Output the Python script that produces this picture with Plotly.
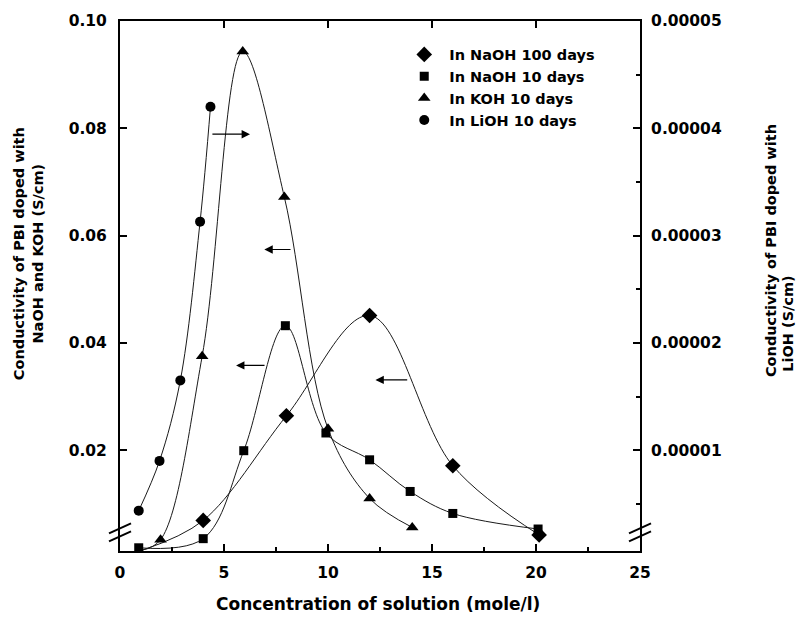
import plotly.graph_objects as go

# ---------------- data ----------------
conc_naoh100 = [4.0, 8.0, 12.0, 16.0, 20.15]
sigma_naoh100 = [0.0069, 0.0264, 0.0451, 0.0171, 0.0042]

conc_naoh10 = [0.9, 4.0, 5.95, 7.95, 9.9, 12.0, 13.95, 16.0, 20.1]
sigma_naoh10 = [0.0018, 0.0035, 0.0199, 0.0432, 0.0232, 0.0182, 0.0123, 0.0082, 0.0053]

conc_koh10 = [1.95, 3.95, 5.9, 7.9, 10.0, 12.0, 14.05]
sigma_koh10 = [0.0033, 0.0375, 0.0943, 0.0672, 0.0240, 0.0110, 0.0056]

conc_lioh10 = [0.9, 1.9, 2.9, 3.85, 4.35]
sigma_lioh10 = [0.00000436, 0.0000090, 0.0000165, 0.0000313, 0.0000420]

# visible start of the fitted curves
curve_start_naoh100 = (1.1, 0.0014)
curve_start_koh10 = (1.0, 0.0013)

series_names = ["In NaOH 100 days", "In NaOH 10 days", "In KOH 10 days", "In LiOH 10 days"]

x_ticks = [0, 5, 10, 15, 20, 25]
y_ticks = [0.02, 0.04, 0.06, 0.08, 0.10]
y_ticklabels = ["0.02", "0.04", "0.06", "0.08", "0.10"]
y2_ticks = [0.00001, 0.00002, 0.00003, 0.00004, 0.00005]
y2_ticklabels = ["0.00001", "0.00002", "0.00003", "0.00004", "0.00005"]
y2_minor = [0.000005, 0.000015, 0.000025, 0.000035, 0.000045]

# ---------------- figure ----------------
LINE = "#1a1a1a"
TICKFONT = dict(family="DejaVu Sans", size=15.5, color="black", weight="bold")
YTITLEFONT = dict(family="DejaVu Sans", size=14.5, color="black", weight="bold")
XTITLEFONT = dict(family="DejaVu Sans", size=17, color="black", weight="bold")

fig = go.Figure()

# fitted curves (smooth lines through the points)
fig.add_trace(go.Scatter(x=[curve_start_naoh100[0]] + conc_naoh100,
                         y=[curve_start_naoh100[1]] + sigma_naoh100,
                         mode="lines", line=dict(color=LINE, width=1, shape="spline", smoothing=1),
                         showlegend=False, hoverinfo="skip"))
fig.add_trace(go.Scatter(x=conc_naoh10, y=sigma_naoh10,
                         mode="lines", line=dict(color=LINE, width=1, shape="spline", smoothing=1),
                         showlegend=False, hoverinfo="skip"))
fig.add_trace(go.Scatter(x=[curve_start_koh10[0]] + conc_koh10,
                         y=[curve_start_koh10[1]] + sigma_koh10,
                         mode="lines", line=dict(color=LINE, width=1, shape="spline", smoothing=1),
                         showlegend=False, hoverinfo="skip"))
fig.add_trace(go.Scatter(x=conc_lioh10, y=sigma_lioh10, yaxis="y2",
                         mode="lines", line=dict(color=LINE, width=1, shape="spline", smoothing=1),
                         showlegend=False, hoverinfo="skip"))

# markers
fig.add_trace(go.Scatter(x=conc_naoh100, y=sigma_naoh100, mode="markers", name=series_names[0],
                         marker=dict(symbol="diamond", size=12, color="black")))
fig.add_trace(go.Scatter(x=conc_naoh10, y=sigma_naoh10, mode="markers", name=series_names[1],
                         marker=dict(symbol="square", size=9, color="black")))
fig.add_trace(go.Scatter(x=conc_koh10, y=sigma_koh10, mode="markers", name=series_names[2],
                         marker=dict(symbol="triangle-up", size=11, color="black")))
fig.add_trace(go.Scatter(x=conc_lioh10, y=sigma_lioh10, mode="markers", name=series_names[3],
                         yaxis="y2", marker=dict(symbol="circle", size=10, color="black")))

# dummy trace so the top (mirror) axis is drawn
fig.add_trace(go.Scatter(x=[None], y=[None], xaxis="x2", showlegend=False, hoverinfo="skip"))

fig.update_layout(
    width=803, height=620,
    margin=dict(l=120, r=163, t=18, b=69),
    paper_bgcolor="white", plot_bgcolor="white",
    showlegend=True,
    legend=dict(x=0.537, y=0.967, xanchor="left", yanchor="top", itemwidth=40,
                font=dict(family="DejaVu Sans", size=14.5, color="black", weight="bold"),
                bgcolor="rgba(0,0,0,0)", tracegroupgap=0),
    xaxis=dict(range=[0, 25], tickvals=x_ticks, ticks="inside", ticklen=7, tickwidth=1.5,
               tickcolor="black", showline=True, linewidth=2, linecolor="black",
               showgrid=False, zeroline=False, tickfont=TICKFONT, ticklabelstandoff=6,
               minor=dict(dtick=2.5, ticks="inside", ticklen=4, tickwidth=1.5, tickcolor="black",
                          showgrid=False)),
    xaxis2=dict(range=[0, 25], overlaying="x", side="top", tickvals=x_ticks, ticks="inside",
                ticklen=7, tickwidth=1.5, tickcolor="black", showline=True, linewidth=2,
                linecolor="black", showticklabels=False, showgrid=False, zeroline=False),
    yaxis=dict(range=[0.0012, 0.1], tickvals=y_ticks, ticktext=y_ticklabels, ticks="inside",
               ticklen=7, tickwidth=1.5, tickcolor="black", showline=True, linewidth=2,
               linecolor="black", showgrid=False, zeroline=False, tickfont=TICKFONT,
               ticklabelstandoff=8),
    yaxis2=dict(range=[0.0000006, 0.00005], overlaying="y", side="right", tickvals=y2_ticks,
                ticktext=y2_ticklabels, ticks="inside", ticklen=7, tickwidth=1.5,
                tickcolor="black", showline=True, linewidth=2, linecolor="black",
                showgrid=False, zeroline=False, tickfont=TICKFONT, ticklabelstandoff=6,
                minor=dict(tickvals=y2_minor, ticks="inside", ticklen=4, tickwidth=1.5,
                           tickcolor="black", showgrid=False)),
)

# axis titles
fig.add_annotation(text="Concentration of solution (mole/l)", xref="paper", yref="paper",
                   x=0.4966, y=-0.100, xanchor="center", yanchor="middle", showarrow=False,
                   font=XTITLEFONT)
fig.add_annotation(text="Conductivity of PBI doped with<br>NaOH and KOH (S/cm)", xref="paper",
                   yref="paper", x=-0.176, y=0.561, xanchor="center", yanchor="middle",
                   textangle=-90, showarrow=False, font=YTITLEFONT, align="center")
fig.add_annotation(text="Conductivity of PBI doped with", xref="paper",
                   yref="paper", x=1.2522, y=0.8087, xanchor="center", yanchor="top",
                   textangle=-90, showarrow=False, font=YTITLEFONT)
fig.add_annotation(text="LiOH (S/cm)", xref="paper",
                   yref="paper", x=1.2830, y=0.5235, xanchor="center", yanchor="top",
                   textangle=-90, showarrow=False, font=YTITLEFONT)

# arrows indicating which axis each curve belongs to
arrows = [
    (4.37, 0.0789, 6.25, 0.0789),   # LiOH -> right axis
    (8.27, 0.0574, 6.94, 0.0574),   # KOH -> left axis
    (7.02, 0.0358, 5.58, 0.0358),   # NaOH 10 days -> left axis
    (13.88, 0.0331, 12.28, 0.0331), # NaOH 100 days -> left axis
]
for tx, ty, hx, hy in arrows:
    fig.add_annotation(x=hx, y=hy, ax=tx, ay=ty, xref="x", yref="y", axref="x", ayref="y",
                       showarrow=True, arrowhead=2, arrowsize=1.4, arrowwidth=1.2,
                       arrowcolor="black", text="")

# axis break marks
for xa in (0, 1):
    for dy in (-4, 4):
        fig.add_shape(type="line", xref="paper", yref="paper", xsizemode="pixel",
                      ysizemode="pixel", xanchor=xa, yanchor=0.035,
                      x0=-11, x1=11, y0=dy - 5, y1=dy + 5,
                      line=dict(color="black", width=2))

fig.write_html("out.html")
